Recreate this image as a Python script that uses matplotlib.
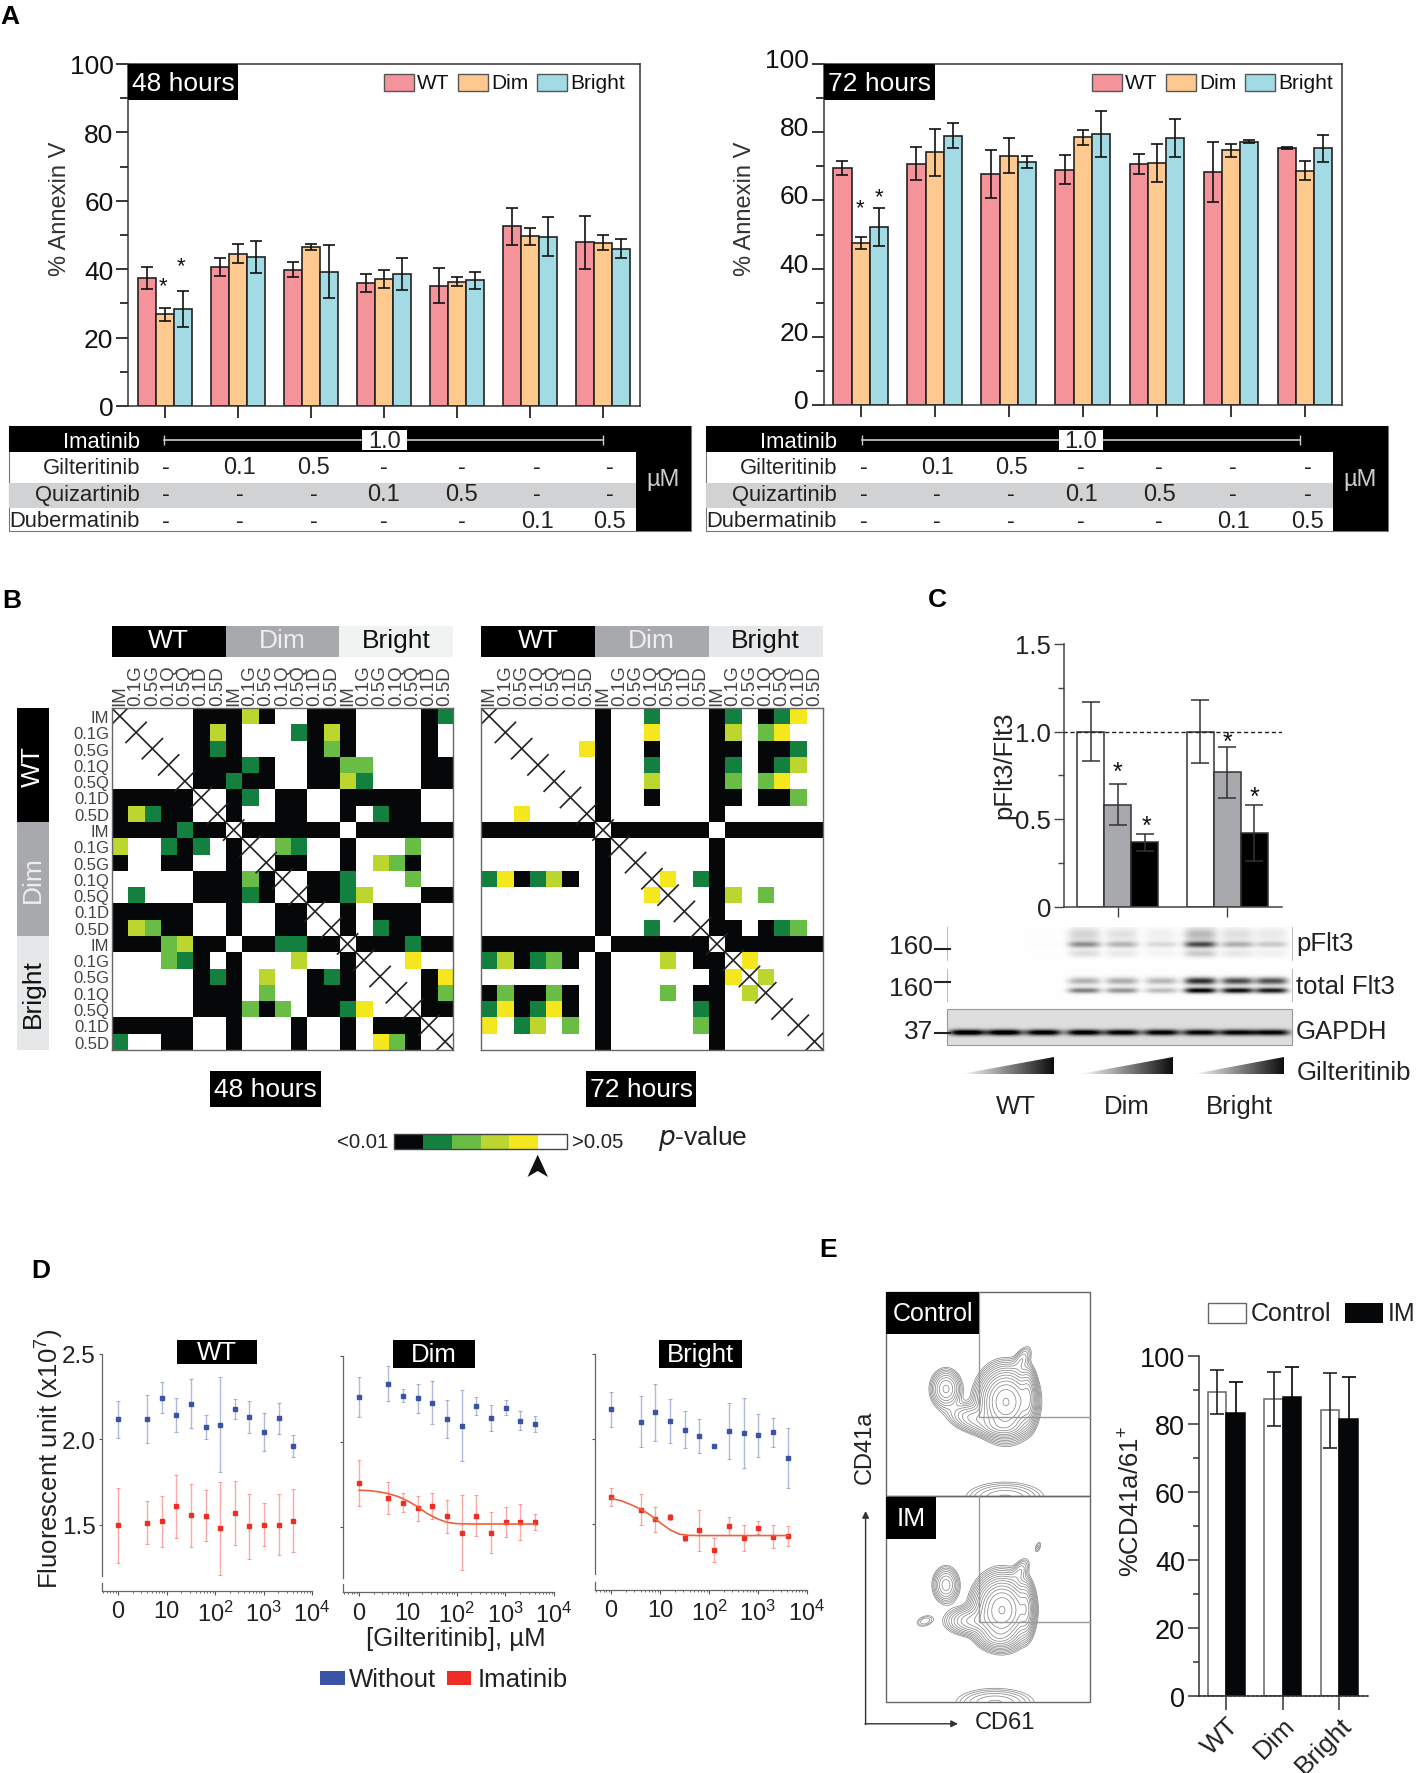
import numpy as np
import matplotlib
matplotlib.use('Agg')
import matplotlib.pyplot as plt
from matplotlib.colors import ListedColormap
from matplotlib.patches import Rectangle, Polygon
from matplotlib.ticker import LogLocator, NullFormatter
from matplotlib.transforms import ScaledTranslation

plt.rcParams['font.family'] = ['Liberation Sans', 'DejaVu Sans']
plt.rcParams['mathtext.fontset'] = 'custom'
plt.rcParams['mathtext.rm'] = 'Liberation Sans'
plt.rcParams['mathtext.default'] = 'regular'

W, H = 1418, 1774
TXT = '#222222'

# panel A, % Annexin V
groups = list(range(7))
a48_wt = [37.4, 40.6, 39.9, 35.9, 35.2, 52.5, 47.9]
a48_wt_err = [3.3, 2.6, 2.3, 2.6, 5.1, 5.3, 7.8]
a48_dim = [26.9, 44.5, 46.5, 37.2, 36.3, 49.6, 47.7]
a48_dim_err = [1.9, 2.8, 1.0, 2.6, 1.3, 2.4, 2.2]
a48_bright = [28.3, 43.5, 39.3, 38.6, 36.7, 49.5, 46.0]
a48_bright_err = [5.2, 4.6, 7.7, 4.6, 2.5, 5.7, 2.7]

a72_wt = [69.4, 70.7, 67.7, 69.0, 70.7, 68.3, 75.3]
a72_wt_err = [2.0, 4.9, 7.0, 4.2, 2.9, 8.7, 0.4]
a72_dim = [47.6, 74.1, 73.0, 78.4, 70.9, 74.6, 68.7]
a72_dim_err = [1.7, 6.9, 5.1, 2.1, 5.6, 1.8, 2.9]
a72_bright = [52.2, 78.9, 71.3, 79.4, 78.3, 77.2, 75.2]
a72_bright_err = [5.6, 3.6, 1.8, 6.7, 5.6, 0.5, 4.0]

drug_names = ['Gilteritinib', 'Quizartinib', 'Dubermatinib']
gil_doses = ['-', '0.1', '0.5', '-', '-', '-', '-']
qui_doses = ['-', '-', '-', '0.1', '0.5', '-', '-']
dub_doses = ['-', '-', '-', '-', '-', '0.1', '0.5']

# panel B, p-value matrices
# . white, k black, d dark green, m green, l lime, y yellow, x diagonal
hm_labels = ['IM', '0.1G', '0.5G', '0.1Q', '0.5Q', '0.1D', '0.5D'] * 3
hm48 = [
    "x....kkklk..kkk....kd",
    ".x...klk...dklk....k.",
    "..x..kdk....kmk....k.",
    "...x.kkkdk..kkmm...kk",
    "....xkkdkk..kkld...kk",
    "kkkkkx.kd.kk..kkkkk..",
    "kldkk.xk..kk..k.dkk..",
    "kkkkdkkxkkkkkk.kkkkkk",
    "l..dkd.kx.md..k...m..",
    "k..kk..k.xkk..k.lmk..",
    ".....kkkmkx.kkd...m..",
    ".d...kkkdk.xkkdl...kk",
    "kkkkk..k..kkx.k.kkk..",
    "klmkk..k..kk.xk.dkk..",
    "kkkmlkk.kkddkkxkkkdkk",
    "...mdk.k...l..kx..y..",
    ".....kdk.l..kdk.x..ky",
    ".....kkk.m..kkk..x.km",
    ".....kkkmkm.kkdy..xkk",
    "kkkkk..k...k..k.kkkx.",
    "d..kk..k...k..k.ymk.x",
]
hm72 = [
    "x......k..d...kd.kdy.",
    ".x.....k..y...kl.my..",
    "..x...yk..k...kk.kkd.",
    "...x...k..d...kd.kdl.",
    "....x..k..l...km.my..",
    ".....x.k..k...kk.kkm.",
    "..y...xk......k......",
    "kkkkkkkxkkkkkk.kkkkkk",
    ".......kx.....k......",
    ".......k.x....k......",
    "dykdlk.k..xy.dk......",
    ".......k..yx..kl.m...",
    ".......k....x.k......",
    ".......k..d..xkk.kdm.",
    "kkkkkkk.kkkkkkxkkkkkk",
    "dlkdmk.k...l.kkxy....",
    ".......k......kyxl...",
    "kmkkmk.k...m.kk.lx...",
    "dykdyk.k.....dk...x..",
    "y.dl.m.k.....mk....x.",
    ".......k......k.....x",
]
hm_codes = 'kdmly.'
hm_colors = ['#050708', '#14803f', '#69bd45', '#bdd62f', '#f4e71d', '#ffffff']

# panel C, pFlt3/Flt3
c_dim = [1.0, 0.582, 0.367]
c_dim_err = [0.17, 0.118, 0.05]
c_bright = [1.0, 0.767, 0.42]
c_bright_err = [0.18, 0.147, 0.16]
c_colors = ['white', '#a8a9ad', 'black']
lane_amp_p = [0, 0, 0.01, 0.42, 0.28, 0.14, 0.68, 0.3, 0.2]
lane_amp_up = [0, 0, 0, 0.3, 0.32, 0.28, 0.82, 0.7, 0.68]
lane_amp_lo = [0, 0, 0, 0.5, 0.42, 0.26, 1.0, 0.95, 0.9]
lane_amp_g = [1.0, 1.0, 0.95, 0.95, 0.92, 0.92, 0.9, 0.9, 0.9]

# panel D, dose response
doses = [1, 4, 8, 16, 32, 64, 128, 256, 512, 1024, 2048, 4096]
d_wt_blue = [2.116, 2.118, 2.244, 2.142, 2.208, 2.071, 2.085, 2.177, 2.132, 2.044, 2.122, 1.962]
d_wt_blue_err = [0.106, 0.138, 0.089, 0.1, 0.142, 0.07, 0.278, 0.06, 0.094, 0.11, 0.088, 0.063]
d_wt_red = [1.498, 1.514, 1.522, 1.61, 1.557, 1.555, 1.482, 1.572, 1.492, 1.502, 1.502, 1.525]
d_wt_red_err = [0.22, 0.126, 0.15, 0.184, 0.183, 0.149, 0.271, 0.186, 0.188, 0.127, 0.18, 0.184]
d_dim_blue = [2.262, 2.339, 2.27, 2.254, 2.228, 2.132, 2.094, 2.211, 2.14, 2.2, 2.122, 2.106]
d_dim_blue_err = [0.117, 0.103, 0.036, 0.085, 0.126, 0.112, 0.207, 0.053, 0.077, 0.042, 0.055, 0.047]
d_dim_red = [1.758, 1.669, 1.642, 1.608, 1.624, 1.563, 1.467, 1.565, 1.467, 1.53, 1.531, 1.53]
d_dim_red_err = [0.133, 0.094, 0.057, 0.075, 0.077, 0.096, 0.218, 0.12, 0.123, 0.088, 0.106, 0.046]
d_bright_blue = [2.172, 2.099, 2.154, 2.105, 2.053, 2.016, 1.957, 2.043, 2.032, 2.02, 2.038, 1.885]
d_bright_blue_err = [0.102, 0.151, 0.167, 0.128, 0.107, 0.102, 0.014, 0.166, 0.207, 0.126, 0.086, 0.178]
d_bright_red = [1.654, 1.581, 1.524, 1.538, 1.415, 1.46, 1.346, 1.484, 1.415, 1.474, 1.423, 1.425]
d_bright_red_err = [0.053, 0.09, 0.076, 0.02, 0.02, 0.122, 0.07, 0.053, 0.079, 0.038, 0.069, 0.058]
fit_dim_x = [1, 1.6, 2.5, 4, 6.3, 10, 16, 25, 40, 63, 100, 200, 4096]
fit_dim_y = [1.715, 1.713, 1.706, 1.695, 1.678, 1.652, 1.618, 1.578, 1.548, 1.527, 1.519, 1.517, 1.517]
fit_bright_x = [1, 1.6, 2.5, 4, 6.3, 10, 16, 25, 40, 63, 4096]
fit_bright_y = [1.648, 1.634, 1.612, 1.585, 1.55, 1.505, 1.463, 1.437, 1.43, 1.429, 1.429]

# panel E, %CD41a/61+
e_groups = ['WT', 'Dim', 'Bright']
e_control = [89.3, 87.2, 83.9]
e_control_err = [6.4, 8.0, 11.0]
e_im = [83.2, 87.9, 81.5]
e_im_err = [9.1, 8.7, 12.1]

fig = plt.figure(figsize=(W / 100, H / 100), dpi=100, facecolor='white')


def ax_px(x0, y0, x1, y1):
    return fig.add_axes([x0 / W, 1 - y1 / H, (x1 - x0) / W, (y1 - y0) / H])


# overlay in pixel coords for labels, boxes and the table strips
ov = fig.add_axes([0, 0, 1, 1], zorder=10)
ov.set_xlim(0, W)
ov.set_ylim(H, 0)
ov.axis('off')
ov.patch.set_alpha(0)
ov.set_autoscale_on(False)


def T(x, y, s, size=17, color=TXT, ha='left', va='center', **kw):
    return ov.text(x, y, s, fontsize=size, color=color, ha=ha, va=va, **kw)


def R(x0, y0, x1, y1, fc='black', ec='none', lw=0, z=1):
    ov.add_patch(Rectangle((x0, y0), x1 - x0, y1 - y0, facecolor=fc, edgecolor=ec, linewidth=lw, zorder=z))


def grouped_bars(ax, wt, wt_err, dim, dim_err, bright, bright_err):
    w = 0.246
    cols = ['#f4939a', '#fdc98f', '#a2dbe3']
    sets = [(wt, wt_err), (dim, dim_err), (bright, bright_err)]
    for i, (v, e) in enumerate(sets):
        x = np.array(groups) + (i - 1) * w
        ax.bar(x, v, w, color=cols[i], edgecolor='#222222', linewidth=1.2)
        ax.errorbar(x, v, yerr=e, fmt='none', ecolor='#111111', elinewidth=1.2, capsize=4, capthick=1.2)
    ax.set_xlim(-0.5, 6.5)
    ax.set_ylim(0, 100)
    ax.set_xticks(groups)
    ax.set_xticklabels([])
    ax.set_yticks(range(0, 101, 20))
    ax.set_yticks(range(10, 100, 20), minor=True)
    ax.tick_params(axis='both', which='major', length=8.5, width=1.1, labelsize=19, labelcolor='#111111', pad=2)
    ax.tick_params(axis='y', which='minor', length=6, width=1.1)
    for s in ax.spines.values():
        s.set_linewidth(1.1)
        s.set_color('#333333')


def drug_table(x0, x1, mu_x, lab_x, xs, line0, line1, box0, box1):
    R(x0, 427, x1, 532, fc='white', ec='#777777', lw=0.8, z=1)
    R(x0, 427, x1, 452.5, z=2)
    R(x0, 483.5, mu_x, 509, fc='#d1d2d4', z=2)
    R(mu_x, 427, x1, 532, z=2)
    T(lab_x, 442.5, 'Imatinib', size=15.8, color='white', ha='right', zorder=4)
    ov.plot([line0, line1], [440.5, 440.5], color='#cccccc', lw=1.2, zorder=3, marker='|', ms=7)
    R(box0, 431, box1, 451, fc='white', z=4)
    T((box0 + box1) / 2, 442.5, '1.0', size=17, ha='center', zorder=5)
    rows = [(468.5, gil_doses), (495.5, qui_doses), (522, dub_doses)]
    for (y, vals), name in zip(rows, drug_names):
        T(lab_x, y, name, size=15.8, ha='right', zorder=4)
        for xv, s in zip(xs, vals):
            T(xv, y, s, size=17, ha='center', zorder=4)
    T((mu_x + x1) / 2, 480, 'µM', size=17, color='#cccccc', ha='center', zorder=4)


# ---- panel A
ax48 = ax_px(128, 65, 640, 407)
grouped_bars(ax48, a48_wt, a48_wt_err, a48_dim, a48_dim_err, a48_bright, a48_bright_err)
ax72 = ax_px(823.6, 64.6, 1342, 406.4)
grouped_bars(ax72, a72_wt, a72_wt_err, a72_dim, a72_dim_err, a72_bright, a72_bright_err)
up = ScaledTranslation(0, 6.5 / 100, fig.dpi_scale_trans)
for lb in ax72.get_yticklabels():
    lb.set_transform(lb.get_transform() + up)

T(60, 209, '% Annexin V', size=17, rotation=90, ha='center', color='#333333')
T(745, 209, '% Annexin V', size=17, rotation=90, ha='center', color='#333333')
T(0, 17, 'A', size=19, color='black', weight='bold')

R(128, 65, 238, 100.7, z=3)
T(183, 84, '48 hours', size=19, color='white', ha='center', zorder=4)
R(823.6, 64.6, 935, 100.5, z=3)
T(880, 84, '72 hours', size=19, color='white', ha='center', zorder=4)

leg_cols = ['#f4939a', '#fdc98f', '#a2dbe3']
for off, y in [(0, 83.5), (708, 83.5)]:
    for x, c, s in zip([384, 458, 537], leg_cols, ['WT', 'Dim', 'Bright']):
        R(x + off, y - 8.5, x + off + 29.5, y + 8.5, fc=c, ec='#555555', lw=1)
        T(x + off + 33, y, s, size=15, color='#111111')

T(163.5, 287, '*', size=16, ha='center', color='#111111')
T(181, 267, '*', size=16, ha='center', color='#111111')
T(860, 209, '*', size=16, ha='center', color='#111111')
T(879.5, 198, '*', size=16, ha='center', color='#111111')

drug_table(9, 691, 636, 140, [166, 240, 314, 384, 462, 537, 610], 164, 603, 362, 407)
drug_table(706, 1388, 1333, 837, [863.5, 937, 1011, 1081, 1159, 1233, 1307.6], 862, 1300, 1059, 1103)


# ---- panel B
def heat(ax, rows, show_rows):
    grid = [[hm_codes.index('.' if c == 'x' else c) for c in r] for r in rows]
    ax.imshow(grid, cmap=ListedColormap(hm_colors), vmin=0, vmax=5, aspect='auto', interpolation='nearest')
    ax.plot([-0.5, 20.5], [-0.5, 20.5], color='#222222', lw=1.2)
    for i, r in enumerate(rows):
        ax.plot([i - 0.62, i + 0.62], [i + 0.62, i - 0.62], color='#222222', lw=1.2)
    ax.set_xlim(-0.5, 20.5)
    ax.set_ylim(20.5, -0.5)
    ax.xaxis.tick_top()
    ax.set_xticks(range(21))
    ax.set_xticklabels(hm_labels, rotation=90, fontsize=13.5, color='#444444')
    ax.set_yticks(range(21))
    ax.set_yticklabels(hm_labels if show_rows else [], fontsize=12, color='#444444')
    ax.tick_params(length=0, pad=2)
    for s in ax.spines.values():
        s.set_color('#666666')
        s.set_linewidth(1)


heat(ax_px(111.7, 709, 453.3, 1050.7), hm48, True)
heat(ax_px(481, 709, 822.7, 1050.7), hm72, False)

T(2, 601, 'B', size=19, color='black', weight='bold')
strip_txt = ['white', '#eeeeee', '#111111']
for x0, light in [(111.7, '#f1f2f2'), (481, '#e6e7e8')]:
    dx = 113.87
    for i, (s, c) in enumerate(zip(['WT', 'Dim', 'Bright'], ['black', '#a7a9ac', light])):
        R(x0 + i * dx, 626.7, x0 + (i + 1) * dx, 658, fc=c)
        T(x0 + (i + 0.5) * dx, 641, s, size=19, color=strip_txt[i], ha='center', zorder=3)
for i, (s, c) in enumerate(zip(['WT', 'Dim', 'Bright'], ['black', '#a7a9ac', '#e6e7e8'])):
    y0 = 709.3 + i * 113.8
    R(16.7, y0, 49, y0 + 113.8, fc=c)
    T(32.8, y0 + 56.9, s, size=19, color=strip_txt[i], ha='center', rotation=90, zorder=3)

R(210, 1072, 321, 1108)
T(265.5, 1090, '48 hours', size=19, color='white', ha='center', zorder=3)
R(586, 1072, 696, 1108)
T(641, 1090, '72 hours', size=19, color='white', ha='center', zorder=3)

seg = (567 - 394) / 6
for i, c in enumerate(hm_colors):
    R(394 + i * seg, 1135, 394 + (i + 1) * seg, 1150.3, fc=c)
R(394, 1135, 567, 1150.3, fc='none', ec='#444444', lw=1, z=2)
T(388, 1143, '<0.01', size=14.7, ha='right')
T(572, 1143, '>0.05', size=14.7)
T(658, 1139, '$\\mathit{p}$-value', size=19)
ov.add_patch(Polygon([[537.7, 1155.7], [548, 1178], [537.7, 1172], [527.5, 1178]], closed=True, facecolor='#111111', edgecolor='none'))

# ---- panel C
axc = ax_px(1063.6, 645, 1281.7, 907.5)
bw = 27.0 / 109.4
xg = [1.0, 2.0]
for xc, vals, errs in [(xg[0], c_dim, c_dim_err), (xg[1], c_bright, c_bright_err)]:
    xs = [xc + (j - 1) * bw for j in range(3)]
    axc.bar(xs, vals, bw, color=c_colors, edgecolor='#333333', linewidth=1.1)
    axc.errorbar(xs, vals, yerr=errs, fmt='none', ecolor='#333333', elinewidth=1.1, capsize=6.5, capthick=1.1)
axc.plot([0.5, 2.5], [1.0, 1.0], color='#222222', lw=1, ls=(0, (3, 2)))
# two groups 109.4 px apart, first one at 1117.6
axc.set_xlim(1 - (1117.6 - 1063.6) / 109.4, 1 + (1281.7 - 1117.6) / 109.4)
axc.set_ylim(0, 1.5)
axc.set_xticks(xg)
axc.set_xticklabels([])
axc.set_yticks([0, 0.5, 1.0, 1.5])
axc.set_yticklabels(['0', '0.5', '1.0', '1.5'])
axc.set_yticks([0.25, 0.75, 1.25], minor=True)
axc.tick_params(axis='both', which='major', length=7, width=1, labelsize=18.5, labelcolor='#222222', color='#444444', pad=2)
axc.tick_params(axis='y', which='minor', length=4, width=1, color='#444444')
axc.spines[['top', 'right']].set_visible(False)
axc.spines[['left', 'bottom']].set_color('#444444')
axc.spines[['left', 'bottom']].set_linewidth(1.1)

T(928, 600, 'C', size=19, color='black', weight='bold')
T(1004, 765, 'pFlt3/Flt3', size=18.5, rotation=90, ha='center')
for x, y in [(1117.6, 773), (1146.5, 827), (1227.6, 743), (1254, 798)]:
    T(x, y, '*', size=18, ha='center', color='#111111')

lane_x = [967, 1004, 1043, 1084, 1121.6, 1161, 1200, 1237, 1271]


def blot(y0, y1, bg, bands, wid=16):
    X, Y = np.meshgrid(np.arange(947, 1292), np.arange(y0, y1))
    img = np.full(X.shape, bg, dtype=float)
    for yc, sy, amps in bands:
        for xc, a in zip(lane_x, amps):
            img += a * np.exp(-((X - xc) / wid) ** 4) * np.exp(-((Y - yc) / sy) ** 2)
    ov.imshow(img, extent=(947, 1292, y1, y0), cmap='gray_r', vmin=0, vmax=1, aspect='auto', zorder=2, interpolation='bilinear')


blot(928, 961, 0.005, [(945, 3.2, lane_amp_p), (935, 7, [a * 0.4 for a in lane_amp_p]), (954, 4, [a * 0.3 for a in lane_amp_p])])
blot(970, 1002, 0.005, [(981.5, 3.6, lane_amp_up), (991, 2.8, lane_amp_lo)])
blot(1010, 1046, 0.13, [(1033, 3, lane_amp_g)], wid=18)
R(947, 1010, 1292, 1046, fc='none', ec='#999999', lw=0.8, z=3)
ov.plot([947, 947], [928, 961], color='#bbbbbb', lw=0.7, zorder=3)
ov.plot([1292, 1292], [928, 961], color='#bbbbbb', lw=0.7, zorder=3)
ov.plot([947, 947], [970, 1002], color='#bbbbbb', lw=0.7, zorder=3)
ov.plot([1292, 1292], [970, 1002], color='#bbbbbb', lw=0.7, zorder=3)
for y in [949.6, 983, 1034]:
    ov.plot([935, 950], [y, y], color='#222222', lw=1.5, zorder=4)
T(933, 947, '160', size=19, ha='right')
T(933, 989, '160', size=19, ha='right')
T(933, 1032, '37', size=19, ha='right')
T(1296, 943.6, 'pFlt3', size=18.5)
T(1296, 987, 'total Flt3', size=18.5)
T(1296, 1032, 'GAPDH', size=18.5)
grad = np.linspace(0, 0.95, 200).reshape(1, -1)
for x0, x1 in [(961.4, 1054), (1080, 1172.5), (1193, 1284)]:
    im = ov.imshow(grad, extent=(x0, x1, 1075, 1058), cmap='gray_r', vmin=0, vmax=1, aspect='auto', zorder=2)
    im.set_clip_path(Polygon([[x0, 1075], [x1, 1075], [x1, 1058]], closed=True, transform=ov.transData))
T(1297, 1073, 'Gilteritinib', size=18.5)
T(1016, 1107, 'WT', size=18.5, ha='center')
T(1127, 1107, 'Dim', size=18.5, ha='center')
T(1239, 1107, 'Bright', size=18.5, ha='center')

# ---- panel D
BLUE, RED = '#3a53a4', '#ee2e24'


def dose_panel(x_spine, y25, y15, xaxis_y, x_end, blue, blue_err, red, red_err, fit=None, show_y=False):
    per = (y15 - y25)
    ymin = 1.5 - (xaxis_y - y15) / per
    ax = ax_px(x_spine, y25, x_end, xaxis_y)
    ax.set_xscale('log')
    for v, e, c in [(blue, blue_err, BLUE), (red, red_err, RED)]:
        ax.errorbar(doses, v, yerr=e, fmt='none', ecolor=c, elinewidth=1, capsize=1.5, capthick=0.8, alpha=0.4)
        ax.plot(doses, v, ls='none', marker='s', ms=3.2, color=c)
    if fit is not None:
        ax.plot(fit[0], fit[1], color='#f0603c', lw=1.2)
    ax.set_xlim(10 ** -0.33, 10 ** 4)
    ax.set_ylim(ymin, 2.5)
    ax.set_xticks([1, 10, 100, 1000, 10000])
    ax.set_xticklabels(['0', '10', '$10^{2}$', '$10^{3}$', '$10^{4}$'], fontsize=17, color='#222222')
    ax.xaxis.set_minor_locator(LogLocator(base=10, subs=range(2, 10), numticks=12))
    ax.xaxis.set_minor_formatter(NullFormatter())
    ax.set_yticks([1.5, 2.0, 2.5])
    ax.set_yticklabels(['1.5', '2.0', '2.5'] if show_y else [], fontsize=17.5, color='#222222')
    ax.tick_params(axis='x', which='major', length=3, width=0.8, color='#555555', pad=4)
    ax.tick_params(axis='x', which='minor', length=1.5, width=0.6, color='#555555')
    ax.tick_params(axis='y', length=2.5, width=0.8, color='#555555', pad=2)
    ax.spines[['top', 'right']].set_visible(False)
    ax.spines['left'].set_bounds(1.2, 2.5)
    ax.spines[['left', 'bottom']].set_color('#666666')
    ax.spines[['left', 'bottom']].set_linewidth(0.9)
    ax.patch.set_alpha(0)
    ov.plot([x_spine, x_spine], [xaxis_y - 8, xaxis_y], color='#666666', lw=0.9)
    return ax


dose_panel(102, 1354.7, 1526, 1591.6, 312, d_wt_blue, d_wt_blue_err, d_wt_red, d_wt_red_err, show_y=True)
dose_panel(343, 1357.4, 1527.9, 1593, 554, d_dim_blue, d_dim_blue_err, d_dim_red, d_dim_red_err, fit=(fit_dim_x, fit_dim_y))
dose_panel(595, 1354.7, 1524.5, 1590.6, 806.8, d_bright_blue, d_bright_blue_err, d_bright_red, d_bright_red_err, fit=(fit_bright_x, fit_bright_y))

T(31, 1271, 'D', size=19, color='black', weight='bold')
for x0, x1, y0, y1, s in [(177, 257, 1341, 1365.4, 'WT'), (393, 475, 1340.6, 1368.8, 'Dim'), (659, 742, 1340.6, 1368.8, 'Bright')]:
    R(x0, y0, x1, y1)
    T((x0 + x1) / 2, (y0 + y1) / 2, s, size=18.5, color='white', ha='center', zorder=3)
T(50, 1459, 'Fluorescent unit (x10$^{7}$)', size=18.5, rotation=90, ha='center')
T(456, 1639, '[Gilteritinib], µM', size=18.5, ha='center')
R(320, 1672, 345, 1686, fc=BLUE)
T(349, 1680, 'Without', size=18.5)
R(447, 1672, 471, 1686, fc=RED)
T(478, 1680, 'Imatinib', size=18.5)


# ---- panel E, gated plots
def density(X, Y, comps):
    z = np.zeros_like(X, dtype=float)
    for cx, cy, sx, sy, ang, w in comps:
        t = np.deg2rad(ang)
        dx = (X - cx) * np.cos(t) + (Y - cy) * np.sin(t)
        dy = -(X - cx) * np.sin(t) + (Y - cy) * np.cos(t)
        z += w * np.exp(-0.5 * ((dx / sx) ** 2 + (dy / sy) ** 2))
    return z


def contour_box(y0, y1, comps, blob):
    X, Y = np.meshgrid(np.linspace(886, 1090, 400), np.linspace(y0, y1, 400))
    z = density(X, Y, comps)
    levels = np.geomspace(0.012, z.max() * 0.97, 15)
    ov.contour(X, Y, z, levels=levels, colors='#8a8a8a', linewidths=0.55, zorder=2)
    z2 = density(X, Y, blob)
    ov.contour(X, Y, z2, levels=np.geomspace(0.05, 0.9, 6), colors='#8a8a8a', linewidths=0.55, zorder=2)


contour_box(1293, 1497,
            [(1006, 1403, 12, 15, 0, 1.0), (1028, 1398, 4, 13, 0, 0.3), (1022, 1360, 4, 8, 30, 0.05),
             (946, 1390, 7.5, 9.5, 0, 0.16), (975, 1420, 14, 7, 15, 0.12), (1002, 1428, 11, 5, 0, 0.15)],
            [(1005, 1499, 16, 6.5, 0, 1.0)])
contour_box(1497, 1702.6,
            [(1002, 1611, 12, 15, 0, 1.0), (1026, 1610, 4, 13, 0, 0.25), (1020, 1572, 4, 8, 30, 0.05),
             (946, 1586, 6.5, 9, 0, 0.13), (972, 1622, 13, 7, 0, 0.15), (998, 1638, 10, 6, 0, 0.12),
             (925, 1622, 6, 3.5, -20, 0.03), (1038, 1548, 1.8, 4, 20, 0.025)],
            [(995, 1704, 16, 6, 0, 1.0)])

R(886, 1293, 1090, 1497, fc='none', ec='#666666', lw=1, z=3)
R(886, 1497, 1090, 1702.6, fc='none', ec='#666666', lw=1, z=3)
ov.plot([979, 979, 1090], [1293, 1418, 1418], color='#999999', lw=1, zorder=3)
ov.plot([979, 979, 1090], [1497, 1623.5, 1623.5], color='#999999', lw=1, zorder=3)
R(886, 1293, 979, 1335, z=4)
T(932.5, 1314, 'Control', size=18, color='white', ha='center', zorder=5)
R(886, 1498, 936, 1540, z=4)
T(911, 1519, 'IM', size=19, color='white', ha='center', zorder=5)
ov.annotate('', xy=(865.6, 1512), xytext=(865.6, 1725.6), arrowprops=dict(arrowstyle='-|>', color='#333333', lw=1, shrinkA=0, shrinkB=0))
ov.annotate('', xy=(958, 1724.8), xytext=(865.1, 1724.8), arrowprops=dict(arrowstyle='-|>', color='#333333', lw=1, shrinkA=0, shrinkB=0))
T(864.5, 1447, 'CD41a', size=17, rotation=90, ha='center', va='center')
T(1005, 1723, 'CD61', size=17, ha='center')
T(819, 1250, 'E', size=19, color='black', weight='bold')

axe = ax_px(1199, 1356.7, 1368, 1697)
e_x = np.arange(3)
be = 18.6 / 56.4
axe.bar(e_x - be / 2, e_control, be, color='white', edgecolor='#666666', linewidth=1.1)
axe.bar(e_x + be / 2, e_im, be, color='#050708', edgecolor='#050708', linewidth=1.1)
axe.errorbar(e_x - be / 2, e_control, yerr=e_control_err, fmt='none', ecolor='#222222', elinewidth=1.2, capsize=5, capthick=1.2)
axe.errorbar(e_x + be / 2, e_im, yerr=e_im_err, fmt='none', ecolor='#050708', elinewidth=1.2, capsize=5, capthick=1.2)
axe.axhline(0, color='#222222', lw=1.2, ls=':', clip_on=False)
axe.set_xlim((1199 - 1226.4) / 56.4, (1368 - 1226.4) / 56.4)
axe.set_ylim(0, 100)
axe.set_xticks(e_x)
axe.set_xticklabels(e_groups, rotation=45, ha='right', rotation_mode='anchor', fontsize=19, color='#222222')
axe.set_yticks(range(0, 101, 20))
axe.set_yticks(range(10, 100, 20), minor=True)
axe.tick_params(axis='y', which='major', length=8, width=1.1, labelsize=19.5, labelcolor='#111111', color='#333333', pad=2)
axe.tick_params(axis='y', which='minor', length=4, width=1.1, color='#333333')
axe.tick_params(axis='x', length=10, width=1.1, color='#333333', pad=2)
axe.spines[['top', 'right']].set_visible(False)
axe.spines[['left', 'bottom']].set_color('#333333')
axe.spines[['left', 'bottom']].set_linewidth(1.1)
T(1132, 1502, '%CD41a/61$^{+}$', size=18.5, rotation=90, ha='center')
R(1208, 1303.6, 1245.5, 1323.8, fc='white', ec='#666666', lw=1)
T(1250.7, 1314, 'Control', size=18)
R(1345, 1303.6, 1383, 1323.8, fc='#050708')
T(1387.6, 1314, 'IM', size=18)

fig.savefig('out.png', dpi=100, facecolor='white')
